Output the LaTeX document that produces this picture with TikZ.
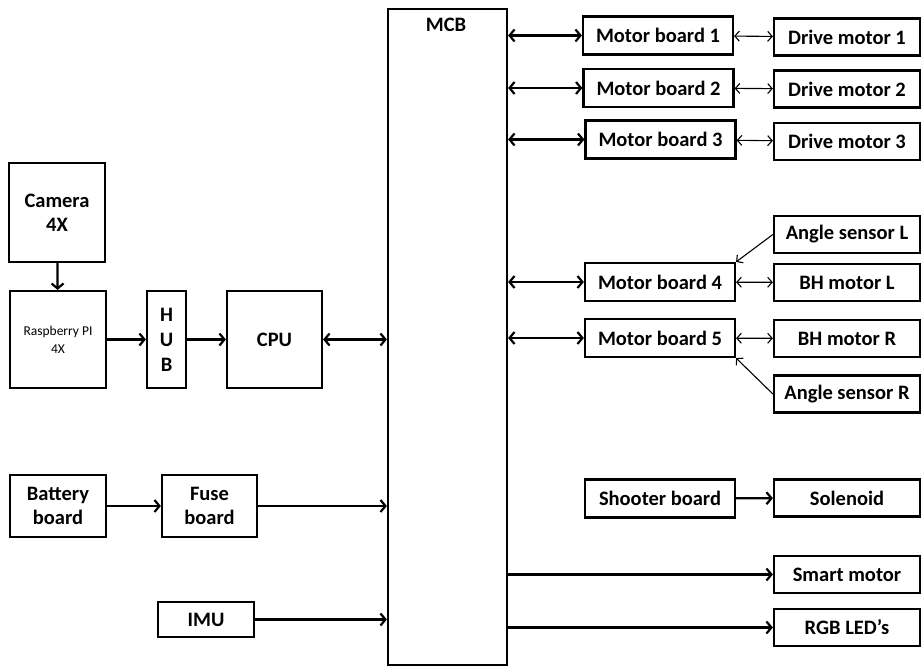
\documentclass[tikz,border=0pt]{standalone}
\usepackage{fontspec}
\setmainfont{Carlito}
\usepackage{tikz}
\usetikzlibrary{positioning, arrows.meta}

\begin{document}
\begin{tikzpicture}[x=1pt, y=-1pt,
    box/.style={draw, rectangle, line width=2.2pt, inner sep=0pt, align=center,
      font=\bfseries\fontsize{20.5}{24}\selectfont},
    mbox/.style={box, minimum width=150pt, minimum height=38pt},
    rbox/.style={box, minimum width=146pt, minimum height=37pt},
    biglink/.style={line width=2.2pt, -{Straight Barb[length=5pt,width=12pt]}},
    twolink/.style={line width=2.2pt, {Straight Barb[length=5pt,width=12pt]}-{Straight Barb[length=5pt,width=12pt]}},
    smalllink/.style={line width=1.1pt, {Straight Barb[length=4.5pt,width=10pt]}-{Straight Barb[length=4.5pt,width=10pt]}},
    thinlink/.style={line width=1.1pt, -{Straight Barb[length=4.5pt,width=10pt]}}]
      \useasboundingbox (0,0) rectangle (921,666);

      % main controller
      \node[box, minimum width=119pt, minimum height=656pt] (mcb) at (447.5,337) {};
      \node[font=\bfseries\fontsize{20.5}{24}\selectfont] (mcbname) at (446,25) {MCB};

      % left side
      \node[box, minimum width=96pt, minimum height=99pt] (cam) at (57,212.5) {Camera\\4X};
      \node[box, minimum width=96pt, minimum height=97pt, font=\fontsize{13.5}{18}\selectfont] (rpi) at (58,339.5) {Raspberry PI\\4X};
      \node[box, minimum width=39pt, minimum height=97pt, font=\bfseries\fontsize{20.5}{25}\selectfont] (hub) at (166.5,339.5) {H\\U\\B};
      \node[box, minimum width=95pt, minimum height=97pt] (cpu) at (274.5,339.5) {CPU};
      \node[box, minimum width=96pt, minimum height=62pt] (bat) at (58,506) {Battery\\board};
      \node[box, minimum width=95pt, minimum height=62pt] (fuse) at (209.5,506) {Fuse\\board};
      \node[box, minimum width=96pt, minimum height=35pt] (imu) at (206,619.5) {IMU};

      % motor boards
      \node[mbox] (mb1) at (658,35.5) {Motor board 1};
      \node[mbox] (mb2) at (658.5,88) {Motor board 2};
      \node[mbox] (mb3) at (660.5,139.5) {Motor board 3};
      \node[mbox] (mb4) at (660,282) {Motor board 4};
      \node[mbox] (mb5) at (660,338) {Motor board 5};
      \node[mbox] (shoot) at (660,498.5) {Shooter board};

      % right column
      \node[rbox] (dm1) at (847,37) {Drive motor 1};
      \node[rbox] (dm2) at (847,89) {Drive motor 2};
      \node[rbox] (dm3) at (847,141.5) {Drive motor 3};
      \node[rbox] (angl) at (847,234.5) {Angle sensor L};
      \node[rbox] (bhl) at (847,282.5) {BH motor L};
      \node[rbox] (bhr) at (847,338.5) {BH motor R};
      \node[rbox] (angr) at (847,394) {Angle sensor R};
      \node[rbox] (sol) at (847,498) {Solenoid};
      \node[rbox] (smart) at (847,574.5) {Smart motor};
      \node[rbox] (rgb) at (847,627.5) {RGB LED’s};

      % connections on the left
      \draw[biglink] (cam) -- (rpi);
      \draw[biglink] (rpi) -- (hub);
      \draw[biglink] (hub) -- (cpu);
      \draw[twolink] (cpu) -- (cpu -| mcb.west);
      \draw[biglink] (bat) -- (fuse);
      \draw[biglink] (fuse) -- (fuse -| mcb.west);
      \draw[biglink] (imu) -- (imu -| mcb.west);

      % connections on the right
      \foreach \b in {mb1, mb2, mb3, mb4, mb5}
        \draw[twolink] (\b.west -| mcb.east) -- (\b.west);
      \draw[smalllink] (mb1) -- (dm1);
      \draw[smalllink] (mb2) -- (dm2);
      \draw[smalllink] (mb3) -- (dm3);
      \draw[smalllink] (mb4) -- (bhl);
      \draw[smalllink] (mb5) -- (bhr);
      \draw[thinlink] (angl.west) -- (mb4.north east);
      \draw[thinlink] (angr.west) -- (mb5.south east);
      \draw[biglink] (shoot) -- (sol);
      \draw[biglink] (smart.west -| mcb.east) -- (smart.west);
      \draw[biglink] (rgb.west -| mcb.east) -- (rgb.west);
    \end{tikzpicture}
\end{document}
